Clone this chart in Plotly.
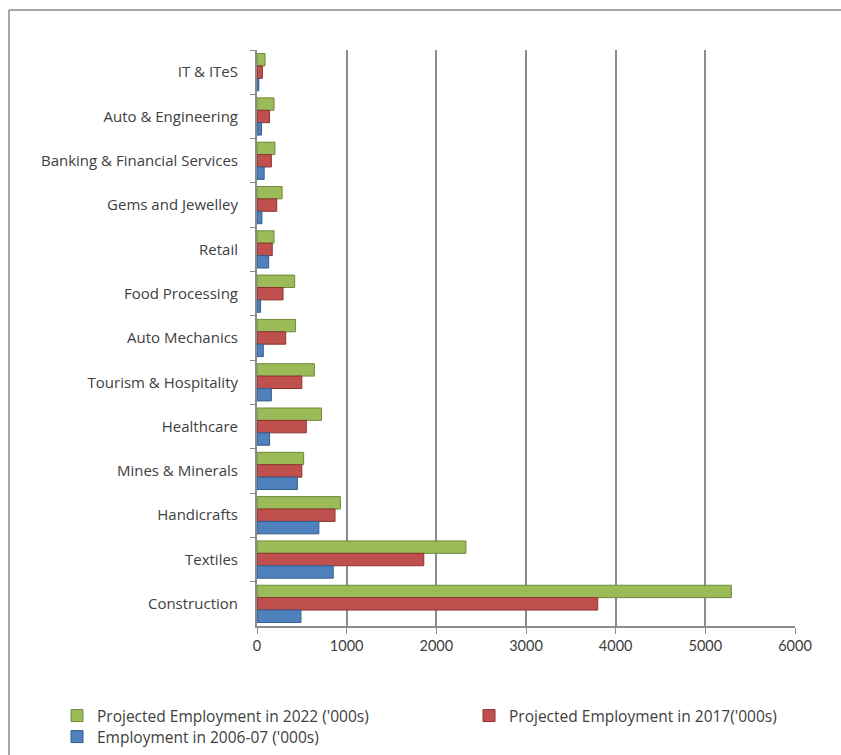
import plotly.graph_objects as go

# Sectors, listed top to bottom
sectors = [
    "IT & ITeS",
    "Auto & Engineering",
    "Banking & Financial Services",
    "Gems and Jewelley",
    "Retail",
    "Food Processing",
    "Auto Mechanics",
    "Tourism & Hospitality",
    "Healthcare",
    "Mines & Minerals",
    "Handicrafts",
    "Textiles",
    "Construction",
]

# Employment figures in thousands
proj_2022 = [90, 190, 200, 280, 190, 420, 430, 640, 720, 520, 930, 2330, 5290]
proj_2017 = [60, 140, 160, 220, 170, 290, 320, 500, 550, 500, 870, 1860, 3800]
emp_2006_07 = [20, 50, 80, 55, 130, 40, 70, 160, 140, 450, 690, 850, 490]

x_ticks = [0, 1000, 2000, 3000, 4000, 5000, 6000]

W, H = 841, 755
ML, MR, MT, MB = 257, 46, 50, 129
PW, PH = W - ML - MR, H - MT - MB

FONT = "Open Sans"
NUMFONT = "Lato"
TXT = "#404040"
GRID = "#8c8c8c"


def px_x(px):
    return (px - ML) / PW


def px_y(py):
    return 1 - (py - MT) / PH


# name, values, fill, edge, legend id, legend left (px), legend top (px)
series = [
    ("Projected Employment in 2022 ('000s)", proj_2022, "#9BBB59", "#6f8a3a", "legend", 57, 699),
    ("Projected Employment in 2017('000s)", proj_2017, "#C0504D", "#8c3330", "legend2", 469, 699),
    ("Employment in 2006-07 ('000s)", emp_2006_07, "#4F81BD", "#335d8f", "legend3", 57, 720),
]

fig = go.Figure()
legends = {}
for name, vals, col, edge, leg, lx, ly in series:
    fig.add_trace(go.Bar(
        y=sectors, x=vals, name=name, orientation="h",
        marker=dict(color=col, line=dict(color=edge, width=1)),
        legend=leg, showlegend=True,
    ))
    legends[leg] = dict(
        orientation="h", x=px_x(lx), xanchor="left", y=px_y(ly), yanchor="top",
        font=dict(family=FONT, size=15.5, color=TXT), bgcolor="rgba(0,0,0,0)",
    )

# outer chart frame (top and left edges)
frame = [
    dict(x0=px_x(9), x1=px_x(W + 5), y0=px_y(10), y1=px_y(10)),
    dict(x0=px_x(9), x1=px_x(9), y0=px_y(10), y1=px_y(H + 5)),
]
shapes = [
    dict(type="line", xref="paper", yref="paper", line=dict(color="#8a8a8a", width=1.5), **f)
    for f in frame
]

fig.update_layout(
    width=W, height=H,
    margin=dict(l=ML, r=MR, t=MT, b=MB, autoexpand=False),
    paper_bgcolor="white", plot_bgcolor="white",
    showlegend=True,
    barmode="group", bargap=0.16, bargroupgap=0.0,
    font=dict(family=FONT, size=14, color=TXT),
    shapes=shapes,
    xaxis=dict(
        range=[0, 6000], tickvals=x_ticks, ticktext=[str(v) for v in x_ticks],
        showgrid=True, gridcolor=GRID, gridwidth=2,
        zeroline=False, showline=True, linecolor=GRID, linewidth=1.5,
        ticks="outside", ticklen=6, tickcolor=GRID,
        tickfont=dict(family=NUMFONT, size=14.5, color=TXT),
    ),
    yaxis=dict(
        autorange="reversed", showgrid=False,
        showline=True, linecolor=GRID, linewidth=2,
        ticks="outside", tickson="boundaries", ticklen=5, tickcolor=GRID,
        ticklabelstandoff=14,
        tickfont=dict(family=FONT, size=15, color=TXT),
    ),
    **legends,
)

fig.write_html("out.html")
